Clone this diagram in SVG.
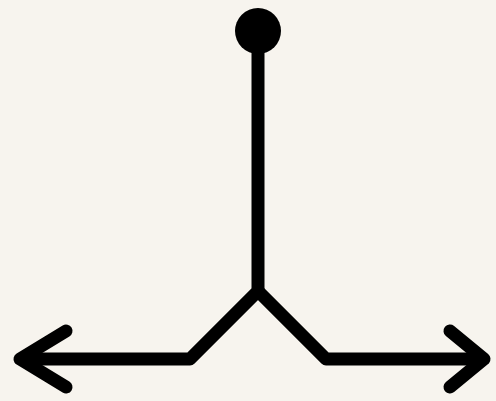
<svg xmlns="http://www.w3.org/2000/svg" width="496" height="401" viewBox="0 0 496 401">
<style>
.ln{fill:none;stroke:#000;stroke-width:13;stroke-linecap:round;stroke-linejoin:round}
</style>
<rect width="496" height="401" fill="#f7f4ee"/>
<g id="connectors">
<path class="ln" d="M258 40 V291 L190 359 H24"/>
<path class="ln" d="M258 291 L326 359 H480"/>
<path class="ln" d="M66 331 L20 359 L66 387"/>
<path class="ln" d="M450 331 L484 359 L450 387"/>
</g>
<g id="start">
<circle cx="258" cy="31" r="23" fill="#000"/>
</g>
</svg>
